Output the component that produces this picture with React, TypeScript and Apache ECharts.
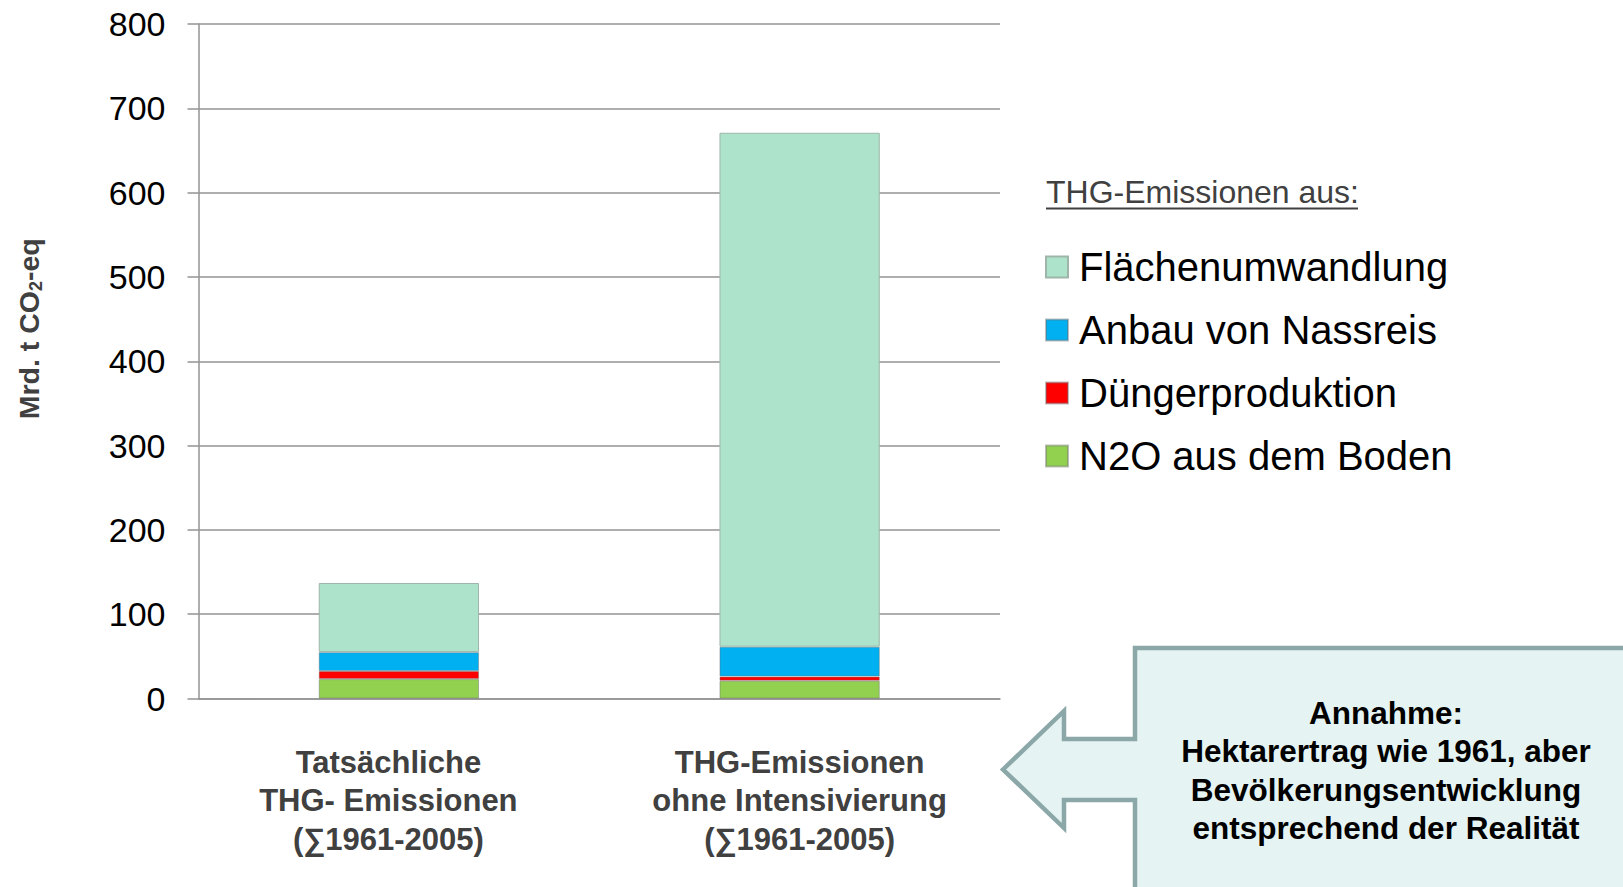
import React, { useEffect, useRef } from "react";
import * as echarts from "echarts";

const categories = [
  "Tatsächliche\nTHG- Emissionen\n(∑1961-2005)",
  "THG-Emissionen\nohne Intensivierung\n(∑1961-2005)",
];
const seriesNames = [
  "Flächenumwandlung",
  "Anbau von Nassreis",
  "Düngerproduktion",
  "N2O aus dem Boden",
];
const n2oBoden = [23, 21];
const duengerproduktion = [9.5, 5];
const nassreis = [22.5, 35.5];
const flaechenumwandlung = [82, 609.5];
const yMin = 0;
const yMax = 800;
const yInterval = 100;

const legendTitle = "THG-Emissionen aus:";
const calloutText =
  "Annahme:\nHektarertrag wie 1961, aber\nBevölkerungsentwicklung\nentsprechend der Realität";

const FONT = "'Liberation Sans', Arial, sans-serif";
const GRID = "#939393";

export default function App() {
  const ref = useRef<HTMLDivElement>(null);

  useEffect(() => {
    document.body.style.margin = "0";
    const chart = echarts.init(ref.current!, undefined, { renderer: "svg" });

    const barBorder = { borderColor: "rgba(110,110,110,0.45)", borderWidth: 1 };

    const option: any = {
      animation: false,
      backgroundColor: "#ffffff",
      textStyle: { fontFamily: FONT },
      grid: {
        left: 198.5,
        right: 623,
        top: 24,
        bottom: 188.5,
        containLabel: false,
        outerBoundsMode: "none",
      },
      legend: {
        orient: "vertical",
        left: 1040,
        top: 240,
        icon: "rect",
        itemWidth: 22,
        itemHeight: 21,
        itemGap: 19,
        data: seriesNames,
        selectedMode: false,
        textStyle: {
          fontFamily: FONT,
          fontSize: 40,
          lineHeight: 44,
          color: "#000000",
          padding: [0, 0, 0, 6],
        },
      },
      xAxis: {
        type: "category",
        data: [
          { value: categories[0], textStyle: { padding: [0, 21, 0, 0] } },
          { value: categories[1] },
        ],
        axisLine: { show: true, lineStyle: { color: GRID, width: 1.5 } },
        axisTick: { show: false },
        axisLabel: {
          margin: 45,
          fontFamily: FONT,
          fontSize: 31,
          fontWeight: "bold",
          lineHeight: 38.3,
          color: "#404040",
          interval: 0,
        },
      },
      yAxis: {
        type: "value",
        min: yMin,
        max: yMax,
        interval: yInterval,
        name: "{a|Mrd. t CO}{s|2}{a|-eq}",
        nameLocation: "middle",
        nameRotate: 90,
        nameGap: 154,
        nameTextStyle: {
          padding: [0, 0, 0, 65],
          rich: {
            a: {
              fontFamily: FONT,
              fontSize: 28.5,
              fontWeight: "bold",
              color: "#404040",
              lineHeight: 31,
            },
            s: {
              fontFamily: FONT,
              fontSize: 18,
              fontWeight: "bold",
              color: "#404040",
              lineHeight: 31,
              verticalAlign: "bottom",
            },
          },
        },
        axisLine: { show: true, lineStyle: { color: GRID, width: 1.5 } },
        axisTick: { show: true, inside: false, length: 11, lineStyle: { color: GRID, width: 1.5 } },
        splitLine: { show: true, lineStyle: { color: GRID, width: 1.5 } },
        axisLabel: {
          margin: 33,
          fontFamily: FONT,
          fontSize: 34,
          color: "#000000",
        },
      },
      series: [
        {
          name: seriesNames[3],
          type: "bar",
          stack: "total",
          barWidth: "40%",
          data: n2oBoden,
          itemStyle: { color: "#92D050", ...barBorder },
        },
        {
          name: seriesNames[2],
          type: "bar",
          stack: "total",
          barWidth: "40%",
          data: duengerproduktion,
          itemStyle: { color: "#FF0000", ...barBorder },
        },
        {
          name: seriesNames[1],
          type: "bar",
          stack: "total",
          barWidth: "40%",
          data: nassreis,
          itemStyle: { color: "#00B0F0", ...barBorder },
        },
        {
          name: seriesNames[0],
          type: "bar",
          stack: "total",
          barWidth: "40%",
          data: flaechenumwandlung,
          itemStyle: { color: "#ACE3CA", borderColor: "#9fb5aa", borderWidth: 1 },
        },
      ],
      graphic: [
        {
          type: "text",
          left: 1046,
          top: 176,
          style: {
            text: legendTitle,
            fontFamily: FONT,
            fontSize: 32,
            fill: "#404040",
          },
        },
        {
          type: "line",
          shape: { x1: 1046, y1: 208.5, x2: 1358, y2: 208.5 },
          style: { stroke: "#404040", lineWidth: 1.8 },
        },
        {
          type: "polygon",
          shape: {
            points: [
              [1003, 769.5],
              [1064, 711],
              [1064, 739],
              [1135, 739],
              [1135, 648],
              [1640, 648],
              [1640, 905],
              [1135, 905],
              [1135, 800],
              [1064, 800],
              [1064, 828],
            ],
          },
          style: { fill: "#E6F3F3", stroke: "#8BA7A8", lineWidth: 4.5 },
        },
        {
          type: "text",
          x: 1386,
          y: 770.5,
          style: {
            text: calloutText,
            fontFamily: FONT,
            fontSize: 31.5,
            fontWeight: "bold",
            lineHeight: 38.3,
            fill: "#000000",
            align: "center",
            verticalAlign: "middle",
          },
        },
      ],
    };

    chart.setOption(option);
    return () => chart.dispose();
  }, []);

  return <div ref={ref} style={{ width: 1623, height: 887, overflow: "hidden" }} />;
}
